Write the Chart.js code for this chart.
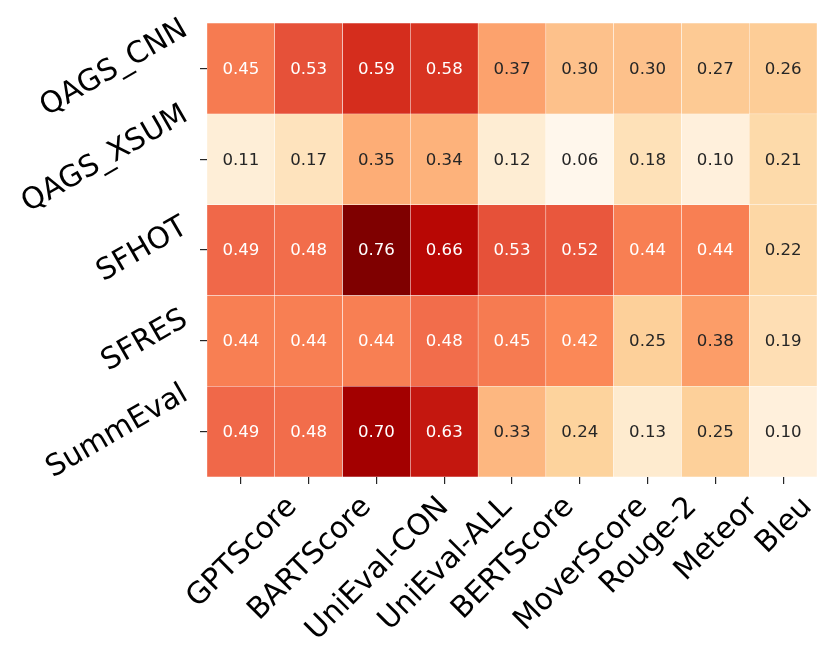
<!DOCTYPE html>
<html>
<head>
<meta charset="utf-8">
<script src="https://cdn.jsdelivr.net/npm/chart.js@4/dist/chart.umd.min.js"></script>
<style>
  html, body { margin: 0; padding: 0; background: #fff; }
  #wrap { width: 830px; height: 661px; position: relative; }
</style>
</head>
<body>
<div id="wrap"><canvas id="heat"></canvas></div>
<script>
// Datos del heatmap
const metricLabels = ['GPTScore', 'BARTScore', 'UniEval-CON', 'UniEval-ALL', 'BERTScore', 'MoverScore', 'Rouge-2', 'Meteor', 'Bleu'];
const datasetLabels = ['QAGS_CNN', 'QAGS_XSUM', 'SFHOT', 'SFRES', 'SummEval'];
const qagsCnn = [0.45, 0.53, 0.59, 0.58, 0.37, 0.30, 0.30, 0.27, 0.26];
const qagsXsum = [0.11, 0.17, 0.35, 0.34, 0.12, 0.06, 0.18, 0.10, 0.21];
const sfhot = [0.49, 0.48, 0.76, 0.66, 0.53, 0.52, 0.44, 0.44, 0.22];
const sfres = [0.44, 0.44, 0.44, 0.48, 0.45, 0.42, 0.25, 0.38, 0.19];
const summEval = [0.49, 0.48, 0.70, 0.63, 0.33, 0.24, 0.13, 0.25, 0.10];
const rows = [qagsCnn, qagsXsum, sfhot, sfres, summEval];

// Escala de color OrRd
const orrd = ['#fff7ec', '#fee8c8', '#fdd49e', '#fdbb84', '#fc8d59', '#ef6548', '#d7301f', '#b30000', '#7f0000'];
const allValues = rows.flat();
const vmin = Math.min(...allValues);
const vmax = Math.max(...allValues);

function hexToRgb(h) {
    return [parseInt(h.substr(1, 2), 16), parseInt(h.substr(3, 2), 16), parseInt(h.substr(5, 2), 16)];
}

function cmap(v) {
    let t = (v - vmin) / (vmax - vmin);
    t = Math.max(0, Math.min(1, t));
    const pos = t * (orrd.length - 1);
    const i = Math.min(Math.floor(pos), orrd.length - 2);
    const f = pos - i;
    const a = hexToRgb(orrd[i]);
    const b = hexToRgb(orrd[i + 1]);
    return a.map((c, k) => Math.round(c + (b[k] - c) * f));
}

function luminance(rgb) {
    const lin = rgb.map(c => {
        c = c / 255;
        return c <= 0.03928 ? c / 12.92 : Math.pow((c + 0.055) / 1.055, 2.4);
    });
    return 0.2126 * lin[0] + 0.7152 * lin[1] + 0.0722 * lin[2];
}

// Valores en cada celda
const annotPlugin = {
    id: 'annot',
    afterDatasetsDraw(chart) {
        const ctx = chart.ctx;
        ctx.save();
        ctx.font = '16.6px "DejaVu Sans"';
        ctx.textAlign = 'center';
        ctx.textBaseline = 'middle';
        chart.data.datasets.forEach((ds, di) => {
            const meta = chart.getDatasetMeta(di);
            meta.data.forEach((el, i) => {
                const v = rows[di][i];
                ctx.fillStyle = luminance(cmap(v)) > 0.408 ? '#262626' : '#ffffff';
                ctx.fillText(v.toFixed(2), el.x, (el.y + el.base) / 2 + 1);
            });
        });
        ctx.restore();
    }
};

// Etiquetas rotadas (caja centrada como en matplotlib)
const labelPlugin = {
    id: 'rotLabels',
    afterDraw(chart) {
        const ctx = chart.ctx;
        const xs = chart.scales.x;
        const ys = chart.scales.y;
        const fs = 29.6;
        const h = fs * 1.16;
        ctx.save();
        ctx.font = fs + 'px "DejaVu Sans"';
        ctx.fillStyle = '#000';
        ctx.textAlign = 'center';
        ctx.textBaseline = 'middle';

        let th = 45 * Math.PI / 180;
        metricLabels.forEach((lab, i) => {
            const w = ctx.measureText(lab).width;
            const bh = w * Math.sin(th) + h * Math.cos(th);
            const cx = xs.getPixelForTick(i);
            const cy = xs.bottom + 5 + bh / 2;
            ctx.save();
            ctx.translate(cx, cy);
            ctx.rotate(-th);
            ctx.fillText(lab, 0, 2);
            ctx.restore();
        });

        th = 30 * Math.PI / 180;
        datasetLabels.forEach((lab, i) => {
            const w = ctx.measureText(lab).width;
            const bw = w * Math.cos(th) + h * Math.sin(th);
            const cx = ys.left - 6 - bw / 2;
            const cy = ys.getPixelForValue(i + 0.5);
            ctx.save();
            ctx.translate(cx, cy);
            ctx.rotate(-th);
            ctx.fillText(lab, 0, 0);
            ctx.restore();
        });
        ctx.restore();
    }
};

const datasets = rows.map((vals, r) => ({
    label: datasetLabels[r],
    data: vals.map(() => [r, r + 1]),
    backgroundColor: vals.map(v => 'rgb(' + cmap(v).join(',') + ')'),
    borderColor: '#ffffff',
    borderWidth: 0.5,
    borderSkipped: false,
    barPercentage: 1,
    categoryPercentage: 1,
    grouped: false
}));

const heatChart = new Chart(document.getElementById('heat').getContext('2d'), {
    type: 'bar',
    data: {
        labels: metricLabels,
        datasets: datasets
    },
    options: {
        responsive: true,
        maintainAspectRatio: false,
        animation: false,
        layout: {
            padding: { left: 200, top: 23, right: 13, bottom: 177 }
        },
        plugins: {
            legend: { display: false },
            tooltip: { enabled: false }
        },
        scales: {
            x: {
                offset: true,
                grid: { display: true, drawOnChartArea: false, drawTicks: true, tickLength: 7, offset: false, color: '#262626', lineWidth: 1.2 },
                border: { display: false },
                ticks: { display: false }
            },
            y: {
                min: 0,
                max: 5,
                reverse: true,
                afterBuildTicks: function(scale) {
                    scale.ticks = datasetLabels.map((_, i) => ({ value: i + 0.5 }));
                },
                grid: { display: true, drawOnChartArea: false, drawTicks: true, tickLength: 7, color: '#262626', lineWidth: 1.2 },
                border: { display: false },
                ticks: { display: false }
            }
        }
    },
    plugins: [annotPlugin, labelPlugin]
});
</script>
</body>
</html>
